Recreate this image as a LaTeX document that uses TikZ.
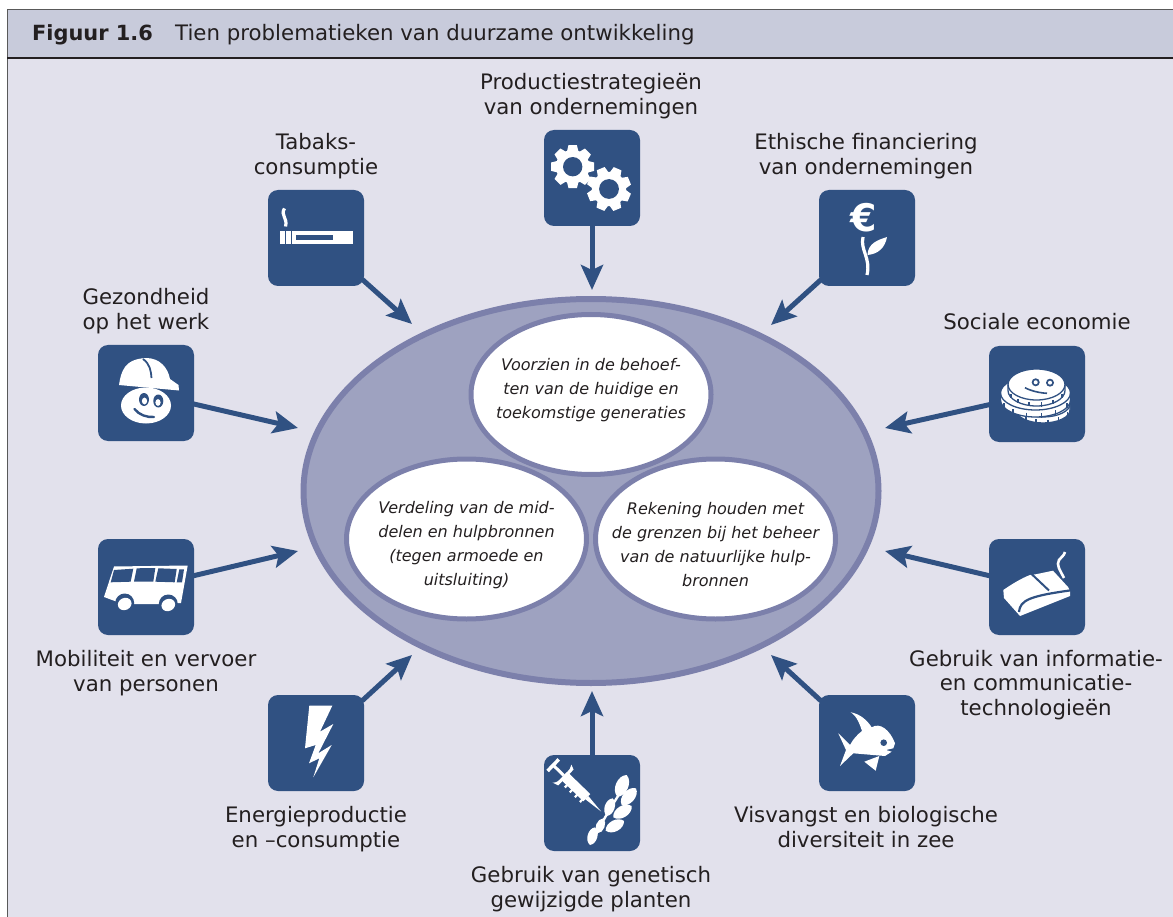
\documentclass[tikz,border=0pt]{standalone}
\usepackage{fontspec}
\setmainfont{DejaVu Sans}
\usetikzlibrary{arrows.meta,shapes.geometric}
\definecolor{boxblue}{HTML}{305182}
\definecolor{headband}{HTML}{C8CBDB}
\definecolor{paneltint}{HTML}{E2E1EC}
\definecolor{ringfill}{HTML}{9EA2C0}
\definecolor{ringline}{HTML}{7C80AB}
\definecolor{inkdark}{HTML}{231F20}
\newcommand{\gearshape}[4]{%
  \fill[white] (#1,#2) circle[radius=#4*0.78];
  \foreach \a in {0,45,...,315}{
    \fill[white,shift={(#1,#2)},rotate=\a+#3] (-5.8,-#4*0.7) -- (-4.2,-#4) -- (4.2,-#4) -- (5.8,-#4*0.7) -- cycle;
  }
  \fill[boxblue] (#1,#2) circle[radius=#4*0.45];
}
\newcommand{\coinshape}[5]{%
  \draw[fill=white,draw=boxblue,line width=1.3]
    (#1-#3,#2) -- (#1-#3,#2+#5)
    .. controls (#1-#3,#2+#5+.55*#4) and (#1-.55*#3,#2+#5+#4) .. (#1,#2+#5+#4)
    .. controls (#1+.55*#3,#2+#5+#4) and (#1+#3,#2+#5+.55*#4) .. (#1+#3,#2+#5)
    -- (#1+#3,#2)
    .. controls (#1+#3,#2-.55*#4) and (#1+.55*#3,#2-#4) .. (#1,#2-#4)
    .. controls (#1-.55*#3,#2-#4) and (#1-#3,#2-.55*#4) .. (#1-#3,#2) -- cycle;
  \draw[boxblue,line width=1.3]
    (#1-#3,#2)
    .. controls (#1-#3,#2+.55*#4) and (#1-.55*#3,#2+#4) .. (#1,#2+#4)
    .. controls (#1+.55*#3,#2+#4) and (#1+#3,#2+.55*#4) .. (#1+#3,#2);
  \foreach \t in {25,55,80,105,130,155}{
    \draw[boxblue,line width=1.8] ({#1+#3*cos(\t)},{#2+#4*sin(\t)+#5*0.45}) -- ({#1+#3*cos(\t)},{#2+#4*sin(\t)+#5+1});
  }
}
\newcommand{\grainshape}[4]{%
  \fill[white] ({260+#1/3},{690+#2/3}) to[bend left=66] ({260+#3/3},{690+#4/3}) to[bend left=66] ({260+#1/3},{690+#2/3});
}
\tikzset{
  iconbox/.style={rectangle,rounded corners=10pt,fill=boxblue,minimum width=96pt,minimum height=96pt,inner sep=0pt},
  feed/.style={draw=boxblue,line width=5pt,shorten <=-3pt,-{Stealth[length=25pt,width=22pt,inset=5pt]}},
  topic/.style={align=center,inner sep=0pt,text=inkdark,font=\fontsize{21.3}{24.4}\selectfont},
  heart/.style={ellipse,draw=ringline,fill=white,line width=5pt,minimum width=240pt,minimum height=160pt,inner sep=0pt},
  heartnote/.style={align=center,inner sep=0pt,text=inkdark,font=\fontsize{16}{24}\selectfont\itshape},
  heading/.style={inner sep=0pt,anchor=west,text=inkdark,font=\fontsize{21.3}{24}\selectfont},
}
\begin{document}
\begin{tikzpicture}[x=1pt,y=-1pt]
\useasboundingbox (0,0) rectangle (1173,917);
\fill[white] (0,0) rectangle (1173,917);
\fill[paneltint] (7,10) rectangle (1173,917);
\fill[headband] (7,10) rectangle (1173,58);
\draw[gray!70!black,line width=1pt] (1173,10) -- (7,10) -- (7,917);
\draw[inkdark,line width=2pt] (7,58) -- (1173,58);
\node[heading,font=\fontsize{20.9}{24}\selectfont] (figno) at (32,34.5) {\textbf{Figuur 1.6}};
\node[heading] (figtitle) at (175,34.5) {Tien problematieken van duurzame ontwikkeling};
% central ellipses
\node[ellipse,draw=ringline,fill=ringfill,line width=6pt,minimum width=575pt,minimum height=384pt,inner sep=0pt] (core) at (591,491) {};
\node[heart] (left) at (466.5,539) {};
\node[heart] (right) at (715.5,539) {};
\node[heart] (top) at (591,394.5) {};
\node[heartnote] (toptxt) at (591,390) {Voorzien in de behoef-\\ten van de huidige en\\toekomstige generaties};
\node[heartnote] (lefttxt) at (466.5,545) {Verdeling van de mid-\\delen en hulpbronnen\\(tegen armoede en\\uitsluiting)};
\node[heartnote] (righttxt) at (715.5,545) {Rekening houden met\\de grenzen bij het beheer\\van de natuurlijke hulp-\\bronnen};
% icon boxes
\node[iconbox] (tabak) at (316,238) {};
\node[iconbox] (gears) at (592,178) {};
\node[iconbox] (euro) at (867,238) {};
\node[iconbox] (helmet) at (146,393) {};
\node[iconbox] (coins) at (1037,394) {};
\node[iconbox] (bus) at (146,587) {};
\node[iconbox] (mouse) at (1037,587) {};
\node[iconbox] (bolt) at (316,743) {};
\node[iconbox] (plant) at (592,803) {};
\node[iconbox] (fish) at (867,743) {};
% arrow ends
\coordinate (t1) at (412,324);
\coordinate (t2) at (592,290);
\coordinate (t3) at (771,325);
\coordinate (t4) at (298,428);
\coordinate (t5) at (885,428);
\coordinate (t6) at (298,551);
\coordinate (t7) at (885,551);
\coordinate (t8) at (412,655);
\coordinate (t9) at (592,691);
\coordinate (t10) at (771,655);
\draw[feed] (tabak) -- (t1);
\draw[feed] (gears) -- (t2);
\draw[feed] (euro) -- (t3);
\draw[feed] (helmet) -- (t4);
\draw[feed] (coins) -- (t5);
\draw[feed] (bus) -- (t6);
\draw[feed] (mouse) -- (t7);
\draw[feed] (bolt) -- (t8);
\draw[feed] (plant) -- (t9);
\draw[feed] (fish) -- (t10);
% labels
\node[topic] (l1) at (591,97) {\strut Productiestrategieën\\van ondernemingen\strut};
\node[topic] (l2) at (316,157) {\strut Tabaks-\\consumptie\strut};
\node[topic] (l3) at (866,157) {\strut Ethische financiering\\van ondernemingen\strut};
\node[topic] (l4) at (146,312) {\strut Gezondheid\\op het werk\strut};
\node[topic] (l5) at (1037,325) {\strut Sociale economie\strut};
\node[topic] (l6) at (146,674) {\strut Mobiliteit en vervoer\\van personen\strut};
\node[topic] (l7) at (1036,686) {\strut Gebruik van informatie-\\en communicatie-\\technologieën\strut};
\node[topic] (l8) at (316,830) {\strut Energieproductie\\en –consumptie\strut};
\node[topic] (l9) at (866,830) {\strut Visvangst en biologische\\diversiteit in zee\strut};
\node[topic] (l10) at (591,890) {\strut Gebruik van genetisch\\gewijzigde planten\strut};
% cigarette
\fill[white] (280,231) rectangle (353,244);
\fill[boxblue] (285.3,231) rectangle (286.3,244);
\fill[boxblue] (291,231) rectangle (292,244);
\fill[boxblue] (296,235) rectangle (333,240);
\draw[white,line width=3.2pt] (284.5,208.5) .. controls (280,215) and (288,218) .. (285.5,226.5);
% gears
\gearshape{572.7}{166.7}{0}{21.5}
\gearshape{609}{189}{22}{22}
% euro + sprout
\node[inner sep=0pt,text=white,font=\fontsize{38}{38}\selectfont\bfseries] (eurosign) at (864,218) {€};
\draw[white,line width=3.2pt] (863,237) .. controls (860,250) and (871,258) .. (867,275);
\fill[white] (867.5,255) .. controls (868,243) and (878,240) .. (887,237) .. controls (885,248) and (878,254) .. (867.5,255) -- cycle;
% helmet
\fill[white] (119,385) .. controls (121,372) and (124,359) .. (146,358) .. controls (160,358) and (168,368) .. (170,379) -- (178.5,385) -- (179,390.5) -- cycle;
\draw[boxblue,line width=1.8pt] (143,359) .. controls (150,364) and (151,371) .. (151.5,378);
\fill[white] (146,405.5) ellipse[x radius=25,y radius=18];
\fill[boxblue] (144,399.5) ellipse[x radius=5,y radius=6.5];
\fill[boxblue] (158.3,401) ellipse[x radius=5,y radius=6.5];
\fill[white] (144.5,401) ellipse[x radius=2.6,y radius=3.4];
\fill[white] (158,402.5) ellipse[x radius=2.6,y radius=3.4];
\draw[boxblue,line width=2.4pt,line cap=round] (134.5,409) .. controls (139,415) and (147,417.5) .. (154,417);
% coins
\coinshape{1043}{404}{27}{13}{6}
\coinshape{1035.5}{393}{35}{17}{7}
\coinshape{1036.5}{384.5}{28.5}{15.5}{6}
\fill[boxblue] (1035.7,382.3) circle[radius=4];
\fill[boxblue] (1050,382.7) circle[radius=4];
\fill[white] (1035.7,382.3) circle[radius=2];
\fill[white] (1050,382.7) circle[radius=2];
\draw[boxblue,line width=1.6pt] (1025,387.7) .. controls (1031,391) and (1040,393) .. (1047,393.3);
% bus
\fill[white] (114,566.5) -- (187.7,565.5) -- (181,603) -- (160,604) -- (130,604) -- (116.7,601.7) -- (104,597) -- cycle;
\fill[boxblue] (114,570) -- (133.3,568.7) -- (130.7,581.7) -- (110.7,582.3) -- cycle;
\fill[boxblue] (136.7,568.3) -- (155.3,568) -- (153.3,581.7) -- (134,581.7) -- cycle;
\fill[boxblue] (158.3,568.3) -- (176.7,569) -- (174.7,582.3) -- (155.3,581.7) -- cycle;
\fill[boxblue] (179.3,569.3) -- (184,569.3) -- (182,582.3) -- (176.7,582.3) -- cycle;
\fill[boxblue] (124.7,603) circle[radius=9.5];
\fill[boxblue] (168.3,604) circle[radius=9.5];
\fill[boxblue] (110,604.5) rectangle (185,615);
\fill[white,rotate around={25:(124.7,604)}] (124.7,604) ellipse[x radius=7,y radius=6];
\fill[white,rotate around={25:(168.3,605)}] (168.3,605) ellipse[x radius=7,y radius=6];
% mouse
\fill[white] (1003.3,590) .. controls (1012,584) and (1022,578) .. (1030,575) -- (1035.7,574.3) -- (1053,570.7) -- (1068,587) -- (1070,590.7) -- (1070,596) -- (1020,616) -- (1004,598) -- cycle;
\draw[boxblue,line width=2pt] (1031,573.5) -- (1049,590.5);
\draw[boxblue,line width=2.2pt] (1019,612) .. controls (1020,600) and (1030,596) .. (1071,590.3);
\draw[white,line width=2.6pt] (1064,578) .. controls (1060,570) and (1056,565) .. (1059,560) .. controls (1061,557) and (1064,556) .. (1065,552);
% lightning
\fill[white] (309.3,705.7) -- (332.3,705.7) -- (320,731.7) -- (333.3,724) -- (318.3,753.3) -- (331.7,745) -- (313.3,777.3) -- (319.3,758.3) -- (309,763.3) -- (315.7,745) -- (305,748.3) -- cycle;
% syringe
\begin{scope}[shift={(553,765)},rotate=-44]
\fill[white] (-1.5,-8) rectangle (2,8);
\fill[white] (0,-1.5) rectangle (15,1.5);
\fill[white] (13,-13) .. controls (15,-10) and (15,-8) .. (15,-5) -- (15,5) .. controls (15,8) and (15,10) .. (12,13) -- (18,11) -- (18,-11) -- cycle;
\fill[white] (15,-5) rectangle (47,5);
\foreach \u in {23,30,37,44}{\fill[white] (\u,4) rectangle (\u+2.2,8);}
\fill[white] (47,-2.2) -- (67,0) -- (47,2.2) -- cycle;
\end{scope}
% wheat
\draw[white,line width=2.4pt] (592,843) .. controls (600,825) and (612,805) .. (622,790);
\grainshape{1072}{320}{1100}{255}
\grainshape{1085}{345}{1128}{295}
\grainshape{1040}{378}{1058}{325}
\grainshape{1060}{382}{1115}{348}
\grainshape{1012}{430}{1030}{385}
\grainshape{1037}{422}{1092}{393}
\grainshape{990}{465}{1005}{412}
% fish
\fill[white] (838.3,733.3) -- (850,745) .. controls (853,739) and (858,734) .. (862,731) .. controls (860,725) and (857,716) .. (850.7,712.3) .. controls (860,714) and (867,720) .. (871.7,727.3) .. controls (880,722) and (890,730) .. (895,743.3) -- (893.3,748.3) -- (886,750) -- (891.7,751.7) -- (885,756) -- (853.3,753.3) -- (840,766) -- (846,750) -- cycle;
\fill[white] (864.3,761.7) -- (879.3,756) -- (875.7,770.7) -- cycle;
\fill[boxblue] (883.7,742.7) circle[radius=3.3];
\end{tikzpicture}
\end{document}
